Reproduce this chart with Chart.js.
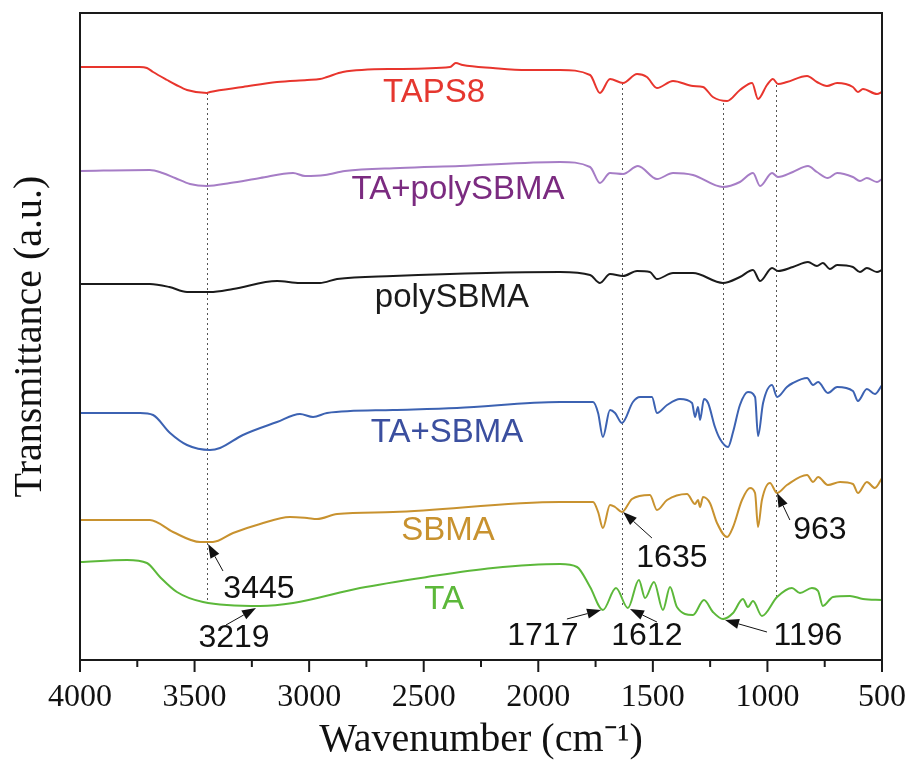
<!DOCTYPE html>
<html>
<head>
<meta charset="utf-8">
<title>FTIR spectra</title>
<script src="https://cdn.jsdelivr.net/npm/chart.js@4/dist/chart.umd.min.js"></script>
<style>
  html, body { margin: 0; padding: 0; background: #fff; }
  #wrap { width: 913px; height: 764px; position: relative; }
</style>
</head>
<body>
<div id="wrap"><canvas id="ftir"></canvas></div>
<script>
"use strict";

// ── Data (wavenumber in cm-1, transmittance in a.u. with offsets) ─────────
const tapsWn = [4000, 3740, 3708, 3681, 3620, 3580, 3533, 3446, 3433, 3289, 3140, 3009, 2953, 2922, 2853, 2634, 2385, 2360, 2330, 2198, 2050, 1905, 1774, 1731, 1687, 1630, 1569, 1526, 1482, 1412, 1325, 1281, 1238, 1176, 1120, 1067, 1041, 1002, 976, 954, 915, 827, 784, 740, 696, 627, 605, 583, 522, 500];
const tapsT  = [593, 593, 592, 588, 580, 575, 570, 567, 568, 573, 578, 580, 581, 583, 588, 591, 593, 597, 595, 592, 590, 590, 585, 567, 581, 577, 586, 583, 572, 579, 574, 573, 563, 559, 570, 577, 561, 575, 581, 576, 578, 584, 578, 574, 577, 573, 568, 571, 566, 568];

const taPolyWn = [4000, 3695, 3640, 3585, 3520, 3446, 3345, 3214, 3070, 3018, 2931, 2844, 2604, 2342, 1905, 1774, 1731, 1687, 1630, 1565, 1482, 1412, 1325, 1194, 1120, 1063, 1032, 980, 954, 889, 823, 784, 736, 696, 627, 596, 566, 522, 500];
const taPolyT  = [489, 490, 487, 482, 476, 474, 477, 482, 487, 484, 485, 489, 492, 494, 498, 493, 477, 487, 486, 494, 481, 487, 485, 473, 478, 487, 474, 487, 483, 488, 494, 488, 482, 487, 483, 479, 482, 478, 481];

const polyWn = [4000, 3695, 3610, 3533, 3433, 3332, 3140, 3040, 2953, 2878, 2634, 1905, 1774, 1731, 1687, 1630, 1569, 1513, 1482, 1412, 1325, 1194, 1120, 1063, 1032, 980, 954, 889, 823, 784, 758, 727, 696, 627, 596, 566, 522, 500];
const polyT  = [376, 376, 373, 368, 368, 371, 379, 377, 377, 381, 384, 388, 385, 377, 386, 384, 389, 388, 381, 387, 387, 377, 383, 390, 379, 392, 389, 393, 398, 394, 397, 391, 395, 393, 388, 392, 388, 390];

const taSbmaWn = [4000, 3738, 3681, 3607, 3533, 3433, 3389, 3289, 3140, 3040, 2983, 2922, 2634, 2355, 1905, 1761, 1739, 1718, 1687, 1665, 1635, 1587, 1556, 1504, 1482, 1438, 1382, 1329, 1316, 1303, 1294, 1277, 1259, 1229, 1207, 1172, 1150, 1120, 1085, 1054, 1041, 1019, 980, 958, 915, 889, 827, 801, 779, 736, 696, 627, 605, 566, 531, 500];
const taSbmaT  = [247, 247, 245, 227, 215, 210, 212, 225, 238, 246, 243, 247, 250, 252, 258, 258, 247, 223, 250, 247, 237, 258, 263, 263, 247, 255, 261, 257, 243, 253, 240, 261, 257, 233, 221, 213, 228, 255, 268, 263, 224, 257, 275, 263, 273, 277, 282, 275, 278, 267, 273, 269, 259, 271, 266, 275];

const sbmaWn = [4000, 3695, 3594, 3476, 3420, 3332, 3214, 3084, 3009, 2966, 2878, 2634, 1905, 1761, 1739, 1718, 1687, 1665, 1635, 1591, 1513, 1482, 1438, 1351, 1316, 1303, 1294, 1281, 1251, 1220, 1176, 1150, 1111, 1076, 1054, 1041, 1024, 989, 958, 915, 827, 801, 779, 736, 683, 627, 605, 566, 531, 500];
const sbmaT  = [140, 140, 128, 118, 118, 127, 136, 143, 142, 141, 146, 148, 158, 158, 148, 132, 155, 153, 148, 161, 165, 150, 160, 166, 156, 160, 153, 163, 157, 137, 123, 133, 160, 172, 167, 133, 160, 177, 167, 175, 185, 178, 183, 175, 178, 176, 167, 178, 172, 182];

const taWn = [4000, 3795, 3708, 3651, 3577, 3463, 3214, 3070, 2778, 2486, 2198, 1905, 1831, 1774, 1718, 1661, 1609, 1561, 1534, 1495, 1456, 1425, 1395, 1325, 1277, 1238, 1194, 1150, 1107, 1085, 1063, 1024, 958, 893, 858, 806, 779, 758, 714, 640, 583, 500];
const taT  = [98, 100, 97, 83, 68, 58, 54, 57, 72, 83, 92, 96, 93, 73, 50, 72, 52, 80, 62, 78, 50, 73, 53, 45, 60, 48, 41, 47, 61, 53, 59, 44, 63, 72, 67, 72, 69, 54, 63, 64, 61, 60];

const seriesNames = ["TAPS8", "TA+polySBMA", "polySBMA", "TA+SBMA", "SBMA", "TA"];
const xTicks = [4000, 3500, 3000, 2500, 2000, 1500, 1000, 500];

// peak markers: dotted guides and arrow labels
const guideWn   = [3445, 1635, 1196, 963];
const guideTop  = [567, 577, 557, 575];
const guideBot  = [59, 53, 40, 62];

const peakText  = ["3445", "3219", "1717", "1612", "1196", "1635", "963"];
const peakTipWn = [3441, 3232, 1726, 1600, 1185, 1630, 958];
const peakTipT  = [116, 52, 50, 51, 40, 148, 167];

// ── Styling / placement ───────────────────────────────────────────────────
const lineColors  = ["#e8352d", "#a67dc6", "#1b1b1b", "#3c62b2", "#c8922f", "#5cb83a"];
const labelColors = ["#e5372f", "#7b2b80", "#1b1b1b", "#3b4f9f", "#c8922f", "#5cb83a"];
const labelPos    = [[2455, 567], [2350, 470], [2377, 362], [2398, 227], [2394, 129], [2411, 60]];
// text centre and arrow tail, in axis units
const peakTextPos = [[3219, 71], [3328, 22], [1980, 24], [1526, 24], [823, 24], [1417, 102], [771, 130]];
const peakTail    = [[3376, 89], [3363, 35], [1875, 41], [1482, 38], [1002, 28], [1504, 122], [902, 140]];

const SANS  = "'Liberation Sans', Arial, sans-serif";
const SERIF = "'Liberation Serif', 'Times New Roman', serif";

function toPoints(wn, t) { return wn.map((w, i) => ({ x: w, y: t[i] })); }

const seriesData = [
  toPoints(tapsWn, tapsT),
  toPoints(taPolyWn, taPolyT),
  toPoints(polyWn, polyT),
  toPoints(taSbmaWn, taSbmaT),
  toPoints(sbmaWn, sbmaT),
  toPoints(taWn, taT),
];

// ── Frame, ticks, guides, labels ──────────────────────────────────────────
const decorPlugin = {
  id: "decor",
  beforeDatasetsDraw(chart) {
    const { ctx, scales: { x, y } } = chart;
    ctx.save();
    ctx.strokeStyle = "#555";
    ctx.lineWidth = 1;
    ctx.setLineDash([2, 3]);
    guideWn.forEach((w, i) => {
      const px = Math.round(x.getPixelForValue(w)) + 0.5;
      ctx.beginPath();
      ctx.moveTo(px, y.getPixelForValue(guideTop[i]));
      ctx.lineTo(px, y.getPixelForValue(guideBot[i]));
      ctx.stroke();
    });
    ctx.restore();
  },
  afterDraw(chart) {
    const { ctx, chartArea: a, scales: { x, y } } = chart;
    ctx.save();

    // box
    ctx.strokeStyle = "#1a1a1a";
    ctx.lineWidth = 2;
    ctx.strokeRect(a.left, a.top, a.right - a.left, a.bottom - a.top);

    // bottom ticks, outward
    for (let w = 500; w <= 4000; w += 250) {
      const px = x.getPixelForValue(w);
      const len = w % 500 === 0 ? 12 : 7;
      ctx.beginPath();
      ctx.moveTo(px, a.bottom);
      ctx.lineTo(px, a.bottom + len);
      ctx.stroke();
    }

    // series names
    ctx.font = "33px " + SANS;
    ctx.textAlign = "center";
    ctx.textBaseline = "middle";
    seriesNames.forEach((name, i) => {
      ctx.fillStyle = labelColors[i];
      ctx.fillText(name, x.getPixelForValue(labelPos[i][0]), y.getPixelForValue(labelPos[i][1]));
    });

    // peak arrows
    ctx.fillStyle = "#111";
    ctx.strokeStyle = "#111";
    ctx.lineWidth = 1;
    peakText.forEach((txt, i) => {
      const tx = x.getPixelForValue(peakTail[i][0]);
      const ty = y.getPixelForValue(peakTail[i][1]);
      const hx = x.getPixelForValue(peakTipWn[i]);
      const hy = y.getPixelForValue(peakTipT[i]);
      const ang = Math.atan2(hy - ty, hx - tx);
      const head = 14, half = 5;
      const bx = hx - head * Math.cos(ang), by = hy - head * Math.sin(ang);
      ctx.beginPath();
      ctx.moveTo(tx, ty);
      ctx.lineTo(bx, by);
      ctx.stroke();
      ctx.beginPath();
      ctx.moveTo(hx, hy);
      ctx.lineTo(bx + half * Math.sin(ang), by - half * Math.cos(ang));
      ctx.lineTo(bx - half * Math.sin(ang), by + half * Math.cos(ang));
      ctx.closePath();
      ctx.fill();

      ctx.font = "32px " + SANS;
      ctx.fillText(txt, x.getPixelForValue(peakTextPos[i][0]), y.getPixelForValue(peakTextPos[i][1]));
    });
    ctx.restore();
  },
};

// ── Chart ─────────────────────────────────────────────────────────────────
new Chart(document.getElementById("ftir"), {
  type: "line",
  data: {
    datasets: seriesData.map((pts, i) => ({
      label: seriesNames[i],
      data: pts,
      borderColor: lineColors[i],
      borderWidth: 2,
      pointRadius: 0,
      cubicInterpolationMode: "monotone",
      fill: false,
    })),
  },
  options: {
    responsive: true,
    maintainAspectRatio: false,
    animation: false,
    layout: { padding: { top: 13, right: 31, left: 0, bottom: 0 } },
    plugins: { legend: { display: false }, tooltip: { enabled: false } },
    scales: {
      x: {
        type: "linear",
        reverse: true,
        min: 500,
        max: 4000,
        afterBuildTicks: scale => { scale.ticks = xTicks.map(v => ({ value: v })); },
        afterFit: scale => {
          scale.height = 104;
          scale.paddingLeft = 0;
          scale.paddingRight = 0;
        },
        grid: { display: false, drawTicks: false },
        border: { display: false },
        ticks: {
          color: "#111",
          padding: 18,
          maxRotation: 0,
          autoSkip: false,
          font: { family: SERIF, size: 32 },
          callback: v => String(v),
        },
        title: {
          display: true,
          text: "Wavenumber (cm\u207B\u00B9)",
          color: "#111",
          padding: { top: 0, bottom: 0 },
          font: { family: SERIF, size: 40 },
        },
      },
      y: {
        min: 0,
        max: 647,
        afterFit: scale => { scale.width = 80; },
        grid: { display: false, drawTicks: false },
        border: { display: false },
        ticks: { display: false },
        title: {
          display: true,
          text: "Transmittance (a.u.)",
          color: "#111",
          padding: { top: 6, bottom: 0 },
          font: { family: SERIF, size: 40 },
        },
      },
    },
  },
  plugins: [decorPlugin],
});
</script>
</body>
</html>
